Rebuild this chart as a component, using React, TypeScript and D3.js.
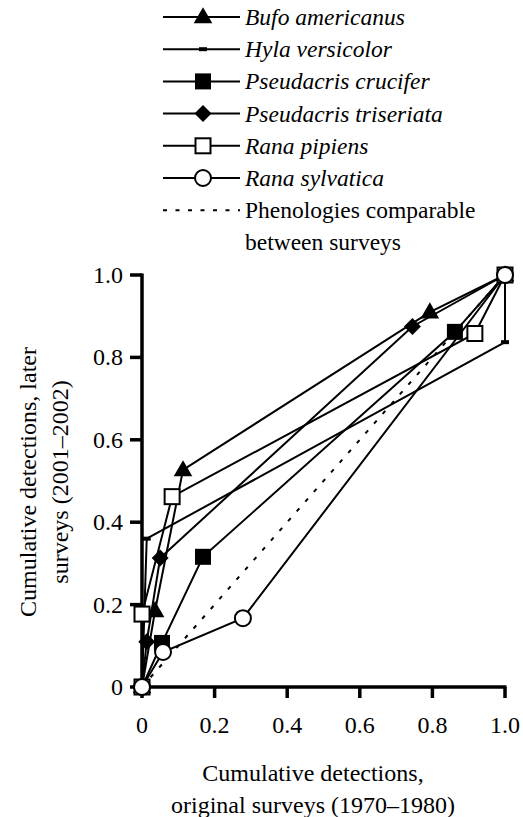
import React from 'react';
import * as d3 from 'd3';

// series values: [original surveys (1970-1980), later surveys (2001-2002)]
const bufoAmericanus = [[0, 0], [0.036, 0.185], [0.113, 0.527], [0.793, 0.91], [1, 1]];
const hylaVersicolor = [[0, 0], [0.013, 0.36], [1, 0.837], [1, 1]];
const pseudacrisCrucifer = [[0, 0], [0.055, 0.107], [0.168, 0.316], [0.862, 0.862], [1, 1]];
const pseudacrisTriseriata = [[0, 0], [0.013, 0.11], [0.05, 0.313], [0.745, 0.875], [1, 1]];
const ranaPipiens = [[0, 0], [0, 0.177], [0.083, 0.462], [0.917, 0.858], [1, 1]];
const ranaSylvatica = [[0, 0], [0.058, 0.085], [0.278, 0.167], [1, 1]];
const comparableLine = [[0, 0], [1, 1]];

const speciesNames = ['Bufo americanus', 'Hyla versicolor', 'Pseudacris crucifer', 'Pseudacris triseriata', 'Rana pipiens', 'Rana sylvatica'];
const speciesSymbols = ['triangle', 'dash', 'square', 'diamond', 'openSquare', 'openCircle'];
const speciesData = [bufoAmericanus, hylaVersicolor, pseudacrisCrucifer, pseudacrisTriseriata, ranaPipiens, ranaSylvatica];
const comparableLabel = ['Phenologies comparable', 'between surveys'];

const xTicks = [0, 0.2, 0.4, 0.6, 0.8, 1.0];
const yTicks = [0, 0.2, 0.4, 0.6, 0.8, 1.0];
const xTitle = ['Cumulative detections,', 'original surveys (1970–1980)'];
const yTitle = ['Cumulative detections, later', 'surveys (2001–2002)'];

const W = 523, H = 817;
const FONT = 'Liberation Serif';

function Marker({ kind, x, y }) {
  // marker glyphs, centred on (x, y)
  if (kind === 'triangle') {
    const p = d3.symbol(d3.symbolTriangle, 150)();
    return <path d={p} transform={`translate(${x},${y + 1})`} fill="#000" />;
  }
  if (kind === 'dash') {
    return <rect x={x - 4} y={y - 2} width={8} height={4} fill="#000" />;
  }
  if (kind === 'square') {
    return <rect x={x - 8} y={y - 8} width={16} height={16} fill="#000" />;
  }
  if (kind === 'diamond') {
    return <rect x={-6} y={-6} width={12} height={12} fill="#000" transform={`translate(${x},${y}) rotate(45)`} />;
  }
  if (kind === 'openSquare') {
    return <rect x={x - 7.5} y={y - 7.5} width={15} height={15} fill="#fff" stroke="#000" strokeWidth={2} />;
  }
  return <circle cx={x} cy={y} r={8} fill="#fff" stroke="#000" strokeWidth={2} />;
}

export default function App() {
  React.useEffect(() => {
    document.body.style.margin = '0';
  }, []);

  const xScale = d3.scaleLinear([0, 1], [142, 505]);
  const yScale = d3.scaleLinear([0, 1], [687, 275]);
  const line = d3.line().x(d => xScale(d[0])).y(d => yScale(d[1]));
  const fmt = d => (d === 0 ? '0' : d3.format('.1f')(d));
  const legendY = i => 17 + i * 32.2;

  return (
    <svg width={W} height={H} style={{ display: 'block' }}>
      {/* legend */}
      {speciesNames.map((name, i) => (
        <g key={name}>
          <line x1={163} x2={240} y1={legendY(i)} y2={legendY(i)} stroke="#000" strokeWidth={2} />
          <Marker kind={speciesSymbols[i]} x={203} y={legendY(i)} />
        </g>
      ))}
      <line x1={163} x2={240} y1={legendY(6)} y2={legendY(6)} stroke="#000" strokeWidth={2} strokeDasharray="4 8.5" />

      {/* comparable phenologies */}
      <path d={line(comparableLine)} fill="none" stroke="#000" strokeWidth={2} strokeDasharray="4 9" />

      {/* series lines */}
      {speciesData.map((s, i) => (
        <path key={speciesNames[i]} d={line(s)} fill="none" stroke="#000" strokeWidth={2} />
      ))}

      {/* axes */}
      <g stroke="#000" strokeWidth={3.5}>
        <line x1={xScale(0)} x2={xScale(0)} y1={yScale(1) - 1.5} y2={yScale(0) + 1.5} />
        <line x1={xScale(0) - 1.5} x2={xScale(1) + 1.5} y1={yScale(0)} y2={yScale(0)} />
        {yTicks.map(t => (
          <line key={'y' + t} x1={xScale(0) - 12} x2={xScale(0)} y1={yScale(t)} y2={yScale(t)} />
        ))}
        {xTicks.map(t => (
          <line key={'x' + t} x1={xScale(t)} x2={xScale(t)} y1={yScale(0)} y2={yScale(0) + 11} />
        ))}
      </g>

      {/* markers */}
      {speciesData.map((s, i) => (
        <g key={'m' + speciesNames[i]}>
          {s.map((d, k) => (
            <Marker key={k} kind={speciesSymbols[i]} x={xScale(d[0])} y={yScale(d[1])} />
          ))}
        </g>
      ))}

      {/* all text */}
      {speciesNames.map((name, i) => (
        <text key={'lt' + name} x={245} y={legendY(i) + 8} fontSize={23.5} fontStyle="italic" style={{ fontFamily: FONT }}>{name}</text>
      ))}
      {comparableLabel.map((t, j) => (
        <text key={t} x={245} y={legendY(6 + j) + 8} fontSize={23.5} style={{ fontFamily: FONT }}>{t}</text>
      ))}
      {yTicks.map(t => (
        <text key={'yl' + t} x={123} y={yScale(t) + 8} textAnchor="end" fontSize={24} style={{ fontFamily: FONT }}>{fmt(t)}</text>
      ))}
      {xTicks.map(t => (
        <text key={'xl' + t} x={xScale(t)} y={733} textAnchor="middle" fontSize={24} style={{ fontFamily: FONT }}>{fmt(t)}</text>
      ))}
      {xTitle.map((t, j) => (
        <text key={t} x={313} y={781 + j * 32} textAnchor="middle" fontSize={24} style={{ fontFamily: FONT }}>{t}</text>
      ))}
      {yTitle.map((t, j) => (
        <text key={t} transform="rotate(-90)" x={-482} y={36 + j * 32} textAnchor="middle" fontSize={24} style={{ fontFamily: FONT }}>{t}</text>
      ))}
    </svg>
  );
}
